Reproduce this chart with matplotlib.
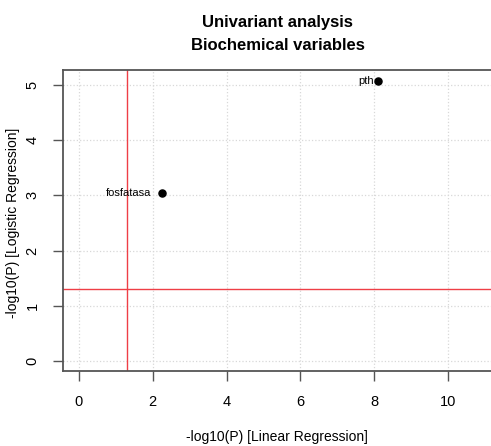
import matplotlib
matplotlib.use("Agg")
import matplotlib.pyplot as plt

# ── Data ────────────────────────────────────────────────────────────────────
variables = ["fosfatasa", "pth"]
linear_logp = [2.25, 8.10]     # -log10(P) linear regression
logistic_logp = [3.04, 5.07]   # -log10(P) logistic regression
threshold = 1.301              # -log10(0.05)
x_ticks = [0, 2, 4, 6, 8, 10]
y_ticks = [0, 1, 2, 3, 4, 5]

plt.rcParams['font.family'] = ['Liberation Sans', 'DejaVu Sans']

fig = plt.figure(figsize=(4.91, 4.46), dpi=100)
ax = fig.add_axes([63 / 491, 75 / 446, 430 / 491, 301 / 446])

ax.set_xlim(-0.43, 11.22)
ax.set_ylim(-0.18, 5.27)

ax.grid(True, color='#d8d8d8', linestyle=':', linewidth=0.9)
ax.set_axisbelow(True)

ax.scatter(linear_logp, logistic_logp, s=26, color='black', zorder=3)
offsets = [-8, -3]  # label gap to the left of each point
for name, xv, yv, dx in zip(variables, linear_logp, logistic_logp, offsets):
    ax.annotate(name, (xv, yv), xytext=(dx, 0), textcoords='offset points',
                ha='right', va='center', fontsize=8)

ax.axvline(threshold, color='#ef3e46', linewidth=1.0, zorder=2)
ax.axhline(threshold, color='#ef3e46', linewidth=1.0, zorder=2)

ax.set_xticks(x_ticks)
ax.set_yticks(y_ticks)
ax.tick_params(direction='out', length=7, width=1, color='#555555',
               labelsize=10.5, pad=10)
for lab in ax.get_yticklabels():
    lab.set_rotation(90)
    lab.set_va('center')

for sp in ax.spines.values():
    sp.set_color('#555555')
    sp.set_linewidth(1.3)

fig.text(0.566, 0.95, "Univariant analysis", ha='center', va='center',
         fontsize=12, fontweight='bold')
fig.text(0.566, 0.899, "Biochemical variables", ha='center', va='center',
         fontsize=12, fontweight='bold')
fig.text(0.564, 0.02, "-log10(P) [Linear Regression]", ha='center', va='center',
         fontsize=10)
fig.text(0.027, 0.50, "-log10(P) [Logistic Regression]", ha='center', va='center',
         fontsize=10, rotation=90)

fig.savefig("out.png", dpi=100)
